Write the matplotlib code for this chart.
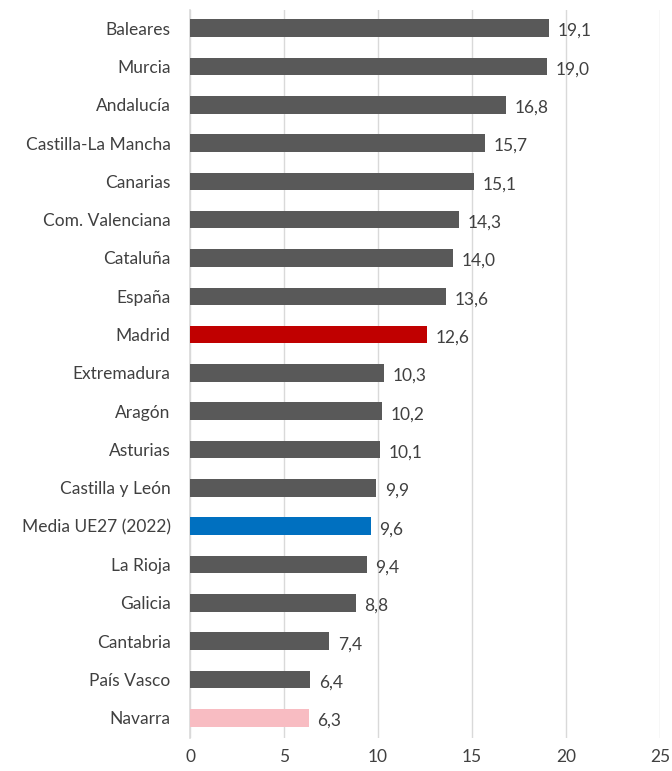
import matplotlib.pyplot as plt

regions = ['Baleares', 'Murcia', 'Andalucía', 'Castilla-La Mancha', 'Canarias',
           'Com. Valenciana', 'Cataluña', 'España', 'Madrid', 'Extremadura',
           'Aragón', 'Asturias', 'Castilla y León', 'Media UE27 (2022)',
           'La Rioja', 'Galicia', 'Cantabria', 'País Vasco', 'Navarra']
values = [19.1, 19.0, 16.8, 15.7, 15.1, 14.3, 14.0, 13.6, 12.6, 10.3,
          10.2, 10.1, 9.9, 9.6, 9.4, 8.8, 7.4, 6.4, 6.3]
highlight = {'Madrid': '#C00000', 'Media UE27 (2022)': '#0070C0', 'Navarra': '#F8BCC2'}

plt.rcParams['font.family'] = ['Lato', 'DejaVu Sans']
text_color = '#404040'

fig = plt.figure(figsize=(6.72, 7.71), dpi=100)
ax = fig.add_axes([0.283, 0.043, 0.699, 0.944])

colors = [highlight.get(r, '#595959') for r in regions]
pos = list(range(len(regions)))
ax.barh(pos, values, height=0.46, color=colors, zorder=3)

for p, v in zip(pos, values):
    ax.text(v + 0.45, p + 0.08, f'{v:.1f}'.replace('.', ','), va='center', ha='left',
            fontsize=12.5, color=text_color)

ax.set_xlim(0, 25)
ax.set_ylim(len(regions) - 0.48, -0.47)
ax.set_xticks([0, 5, 10, 15, 20, 25])
ax.set_yticks(pos)
ax.set_yticklabels(regions)
ax.tick_params(axis='both', length=0, labelsize=12.5, labelcolor=text_color)
ax.tick_params(axis='y', pad=14)
ax.tick_params(axis='x', pad=8)
ax.grid(axis='x', color='#D9D9D9', linewidth=1, zorder=0)
for s in ['top', 'right', 'bottom']:
    ax.spines[s].set_visible(False)
ax.spines['left'].set_color('#D9D9D9')
ax.spines['left'].set_linewidth(1.2)

fig.savefig('out.png', dpi=100)
